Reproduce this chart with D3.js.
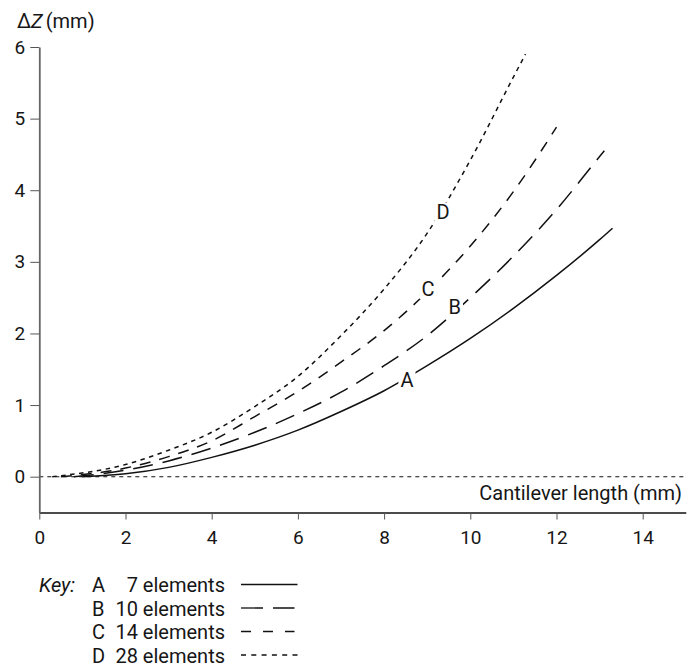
<!DOCTYPE html>
<html><head><meta charset="utf-8">
<script src="https://cdn.jsdelivr.net/npm/d3@7"></script>
<style>
body{margin:0;background:#fff}
svg{display:block}
text{font-family:Roboto,"Liberation Sans",Arial,sans-serif;fill:#161616}
</style>
</head><body>
<svg id="chart" width="697" height="669"></svg>
<script>
// ---- data ----
const seriesNames = ["A", "B", "C", "D"];
const seriesElements = ["7 elements", "10 elements", "14 elements", "28 elements"];

const xA = [1.0, 2, 3, 4, 5, 6, 7, 8, 9, 10, 11, 12, 13, 13.3];
const yA = [0.0, 0.04, 0.13, 0.27, 0.44, 0.65, 0.91, 1.20, 1.55, 1.93, 2.35, 2.81, 3.31, 3.47];

const xB = [0.8, 2, 3, 4, 5, 6, 7, 8, 9, 10, 11, 12, 13, 13.11];
const yB = [0.0, 0.09, 0.22, 0.40, 0.62, 0.88, 1.18, 1.55, 1.97, 2.50, 3.08, 3.73, 4.47, 4.55];

const xC = [0.5, 2, 3, 4, 5, 6, 7, 8, 9, 10, 11, 12];
const yC = [0.0, 0.12, 0.28, 0.50, 0.84, 1.19, 1.60, 2.04, 2.58, 3.22, 3.98, 4.88];

const xD = [0.3, 2, 3, 4, 5, 6, 7, 8, 9, 10, 11, 11.28];
const yD = [0.0, 0.17, 0.37, 0.62, 0.98, 1.40, 1.97, 2.62, 3.40, 4.42, 5.58, 5.90];

const xTicks = [0, 2, 4, 6, 8, 10, 12, 14];
const yTicks = [0, 1, 2, 3, 4, 5, 6];

// curve label anchors (data units)
const labelX = [8.53, 9.64, 9.02, 9.37];
const labelY = [1.35, 2.37, 2.62, 3.69];

// ---- layout / style ----
const svg = d3.select("#chart");
const x = d3.scaleLinear().domain([0, 15]).range([39.3, 685.8]);
const y = d3.scaleLinear().domain([-0.5, 6]).range([512.5, 47]);

const curveDash = {A: null, B: "20,10", C: "11,9", D: "4.5,4.5"};
const keyDash = {A: null, B: "22,10", C: "10,12", D: "5,5.3"};
const keyEnd = {A: 297.5, B: 294.5, C: 294.5, D: 297.5};

const series = [
  {name: "A", xs: xA, ys: yA},
  {name: "B", xs: xB, ys: yB},
  {name: "C", xs: xC, ys: yC},
  {name: "D", xs: xD, ys: yD}
];

// zero reference line
svg.append("line")
  .attr("x1", x(0)).attr("x2", x(15))
  .attr("y1", y(0)).attr("y2", y(0))
  .attr("stroke", "#111").attr("stroke-width", 1.1)
  .attr("stroke-dasharray", "4,4");

// axes
const xAxis = d3.axisBottom(x).tickValues(xTicks).tickFormat(d3.format("d"))
  .tickSize(7).tickSizeOuter(0).tickPadding(11);
const gx = svg.append("g").attr("transform", `translate(0,${y(-0.5)})`).call(xAxis);
gx.select(".domain").attr("stroke", "#111").attr("stroke-width", 1.6);
gx.selectAll(".tick line").attr("stroke", "#555").attr("stroke-width", 1);
gx.selectAll(".tick text").attr("font-size", 19).attr("fill", "#161616")
  .style("font-family", "Roboto, 'Liberation Sans', Arial, sans-serif");

const yAxis = d3.axisLeft(y).tickValues(yTicks).tickFormat(d3.format("d"))
  .tickSize(9).tickSizeOuter(0).tickPadding(5);
const gy = svg.append("g").attr("transform", `translate(${x(0)},0)`).call(yAxis);
gy.select(".domain").attr("stroke", "#666").attr("stroke-width", 1.8);
gy.selectAll(".tick line").attr("stroke", "#555").attr("stroke-width", 1);
gy.selectAll(".tick text").attr("font-size", 19).attr("fill", "#161616")
  .style("font-family", "Roboto, 'Liberation Sans', Arial, sans-serif");

// curves
const line = d3.line().x(d => x(d[0])).y(d => y(d[1])).curve(d3.curveMonotoneX);
series.forEach(s => {
  const pts = s.xs.map((v, i) => [v, s.ys[i]]);
  svg.append("path")
    .attr("d", line(pts))
    .attr("fill", "none")
    .attr("stroke", "#111")
    .attr("stroke-width", 1.5)
    .attr("stroke-dasharray", curveDash[s.name]);
});

// curve labels with white knock-out
seriesNames.forEach((n, i) => {
  const g = svg.append("g");
  const t = g.append("text")
    .attr("x", x(labelX[i])).attr("y", y(labelY[i]))
    .attr("text-anchor", "middle").attr("dominant-baseline", "central")
    .attr("font-size", 20).text(n);
  const bb = t.node().getBBox();
  g.insert("rect", "text")
    .attr("x", bb.x - 2).attr("y", bb.y + 2)
    .attr("width", bb.width + 4).attr("height", bb.height - 4)
    .attr("fill", "#fff");
});

// axis titles
const title = svg.append("text").attr("x", 17).attr("y", 28).attr("font-size", 20);
title.append("tspan").text("\u0394");
title.append("tspan").attr("font-style", "italic").text("Z");
title.append("tspan").attr("dx", 3).text("(mm)");

svg.append("text")
  .attr("x", 682).attr("y", 499.5)
  .attr("text-anchor", "end").attr("font-size", 20)
  .text("Cantilever length (mm)");

// key
const keyY0 = 592, keyStep = 23.5;
svg.append("text").attr("x", 39).attr("y", keyY0).attr("font-size", 20)
  .attr("font-style", "italic").text("Key:");
seriesNames.forEach((n, i) => {
  const by = keyY0 + i * keyStep;
  svg.append("text").attr("x", 92).attr("y", by).attr("font-size", 20).text(n);
  svg.append("text").attr("x", 225).attr("y", by).attr("font-size", 20)
    .attr("text-anchor", "end").text(seriesElements[i]);
  svg.append("line")
    .attr("x1", 241).attr("x2", keyEnd[n])
    .attr("y1", by - 7.5).attr("y2", by - 7.5)
    .attr("stroke", "#111").attr("stroke-width", 1.3)
    .attr("stroke-dasharray", keyDash[n]);
});
</script>
</body></html>
